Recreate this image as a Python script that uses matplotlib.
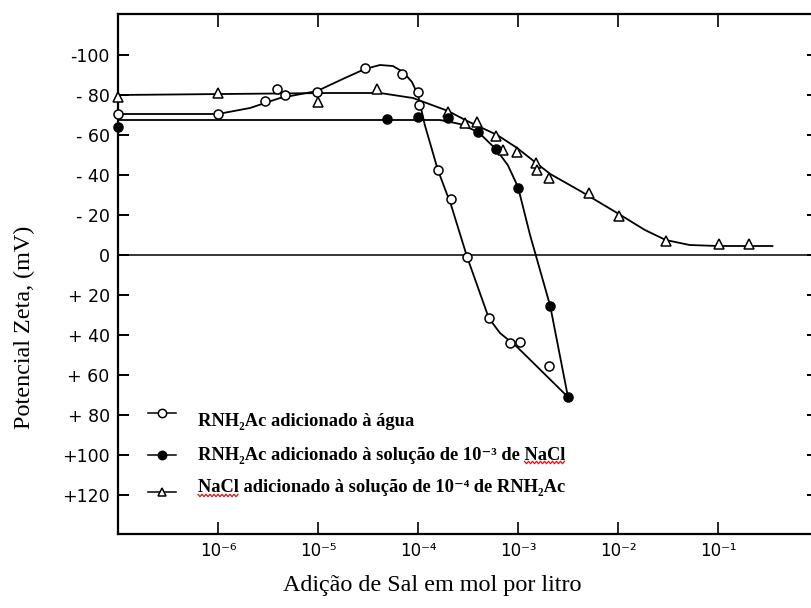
import matplotlib
matplotlib.use("Agg")
import matplotlib.pyplot as plt
import numpy as np

# -----------------------------------------------------------------------------
# Dados (potencial zeta em mV; eixo invertido, negativo para cima)
# -----------------------------------------------------------------------------
# RNH2Ac adicionado à água (círculos abertos)
agua_x = [1e-7, 1e-6, 2.95e-6, 3.9e-6, 4.7e-6, 9.8e-6, 2.95e-5, 6.9e-5,
          1.0e-4, 1.02e-4, 1.58e-4, 2.14e-4, 3.1e-4, 5.1e-4, 8.3e-4,
          1.05e-3, 2.04e-3]
agua_y = [-70.5, -70.5, -77, -83, -80, -81.5, -93.5, -90.5,
          -81.5, -75, -42.5, -28, 1, 31.5, 44,
          43.5, 55.5]
agua_curva_x = [1e-7, 1e-6, 2.09e-6, 4.17e-6, 9.8e-6, 1.86e-5, 2.95e-5, 4.17e-5,
                5.6e-5, 7.1e-5, 8.7e-5, 1.0e-4, 1.17e-4, 1.58e-4, 2.14e-4,
                3.1e-4, 5.1e-4, 6.6e-4, 9.8e-4, 3.16e-3]
agua_curva_y = [-70.5, -70.5, -73.5, -78.5, -82, -88.5, -93, -95,
                -94.5, -91.5, -86.5, -80, -65, -42.5, -25,
                1, 31.5, 39, 46, 71]

# RNH2Ac adicionado à solução de 1e-3 de NaCl (círculos cheios)
nacl_x = [1e-7, 4.9e-5, 1.0e-4, 2.0e-4, 4.0e-4, 6.0e-4, 1.0e-3, 2.1e-3, 3.16e-3]
nacl_y = [-64, -68, -69, -68.5, -61.5, -53, -33.5, 25.5, 71]
nacl_curva_x = [1e-7, 1.66e-4, 2.63e-4, 4.0e-4, 6.0e-4, 7.9e-4, 1.0e-3,
                1.32e-3, 2.1e-3, 3.16e-3]
nacl_curva_y = [-67.5, -67.5, -65.5, -61.5, -53, -45, -34, -10, 25.5, 71]

# NaCl adicionado à solução de 1e-4 de RNH2Ac (triângulos)
amina_x = [1e-7, 1e-6, 1e-5, 3.9e-5, 2.0e-4, 2.95e-4, 3.9e-4, 6.0e-4, 7.1e-4,
           9.8e-4, 1.5e-3, 1.55e-3, 2.04e-3, 5.1e-3, 1.02e-2, 3.0e-2,
           0.102, 0.204]
amina_y = [-79, -81, -76.5, -83, -71.5, -66, -66.5, -59.5, -52.5,
           -51.5, -46, -42.5, -38.5, -31, -19.5, -7,
           -5.5, -5.5]
amina_curva_x = [1e-7, 1.32e-5, 4.17e-5, 8.9e-5, 2.0e-4, 3.1e-4, 6.2e-4, 9.8e-4,
                 2.1e-3, 4.2e-3, 1.02e-2, 1.86e-2, 3.0e-2, 5.2e-2, 0.1, 0.35]
amina_curva_y = [-80, -81, -81, -78.5, -72, -67, -60, -53.5,
                 -40.5, -32, -20.5, -12.5, -7.5, -5, -4.5, -4.5]

yticks = [-100, -80, -60, -40, -20, 0, 20, 40, 60, 80, 100, 120]
ytick_labels = ["-100", "- 80", "- 60", "- 40", "- 20", "0",
                "+ 20", "+ 40", "+ 60", "+ 80", "+100", "+120"]
xticks = [1e-6, 1e-5, 1e-4, 1e-3, 1e-2, 1e-1]
xtick_labels = ["10⁻⁶", "10⁻⁵", "10⁻⁴", "10⁻³", "10⁻²", "10⁻¹"]

legendas = ["RNH₂Ac adicionado à água",
            "RNH₂Ac adicionado à solução de 10⁻³ de NaCl",
            "NaCl adicionado à solução de 10⁻⁴ de RNH₂Ac"]

SERIF = ["Liberation Serif", "DejaVu Serif"]
LEG_FS = 13.3

# -----------------------------------------------------------------------------
# Figura
# -----------------------------------------------------------------------------
fig = plt.figure(figsize=(8.11, 6.08), dpi=100)
W, H = 811, 608
ax = fig.add_axes([118 / W, 1 - 534 / H, (813 - 118) / W, (534 - 14) / H])
ax_w = 813 - 118

ax.set_xscale("log")
ax.set_xlim(1e-7, 10 ** ((813 - 218) / 100 - 6))
ax.set_ylim(139.5, -120.5)

lw = 1.3
ax.axhline(0, color="black", lw=1.1, zorder=1)
ax.plot(agua_curva_x, agua_curva_y, color="black", lw=lw, zorder=2)
ax.plot(nacl_curva_x, nacl_curva_y, color="black", lw=lw, zorder=2)
ax.plot(amina_curva_x, amina_curva_y, color="black", lw=lw, zorder=2)

ax.plot(agua_x, agua_y, "o", ms=6.5, mfc="white", mec="black", mew=1.1,
        zorder=4, clip_on=False)
ax.plot(nacl_x, nacl_y, "o", ms=6.5, mfc="black", mec="black", mew=1.1,
        zorder=4, clip_on=False)
ax.plot(amina_x, amina_y, "^", ms=6.5, mfc="white", mec="black", mew=1.1,
        zorder=3, clip_on=False)

# eixos e marcas
for s in ax.spines.values():
    s.set_linewidth(1.6)
ax.set_yticks(yticks)
ax.set_yticklabels(ytick_labels, fontsize=12.5, family="DejaVu Sans")
ax.set_xticks(xticks)
ax.set_xticklabels(xtick_labels, fontsize=12, family="DejaVu Sans")
ax.minorticks_off()
ax.tick_params(axis="y", direction="in", length=8, width=1.4, pad=6,
               right=True)
ax.tick_params(axis="x", direction="in", length=9, width=1.2, pad=6, top=True)
for t in ax.yaxis.get_major_ticks():
    t.tick2line.set_markersize(4)

ax.set_xlabel("Adição de Sal em mol por litro", family=SERIF, fontsize=17.4,
              va="center")
ax.xaxis.set_label_coords((432 - 118) / ax_w, -(585 - 534) / 520)
ax.set_ylabel("Potencial Zeta, (mV)", family=SERIF, fontsize=17.4,
              va="center")
ax.yaxis.set_label_coords((24 - 118) / ax_w, (534 - 327) / 520)

# legenda manual
estilos = [dict(marker="o", mfc="white"),
           dict(marker="o", mfc="black"),
           dict(marker="^", mfc="white")]
marc_y = [413, 455, 492]
texto_y = [421, 455, 488]
textos = []
for est, my, ty, txt in zip(estilos, marc_y, texto_y, legendas):
    yf = (534 - my) / 520
    ax.plot([(148 - 118) / ax_w, (176 - 118) / ax_w], [yf, yf],
            color="black", lw=1.1, transform=ax.transAxes, clip_on=False)
    ax.plot([(162 - 118) / ax_w], [yf], ms=6, mec="black", mew=1.1,
            transform=ax.transAxes, clip_on=False, **est)
    t = ax.text((198 - 118) / ax_w, (534 - ty) / 520, txt, transform=ax.transAxes,
                family=SERIF, fontsize=LEG_FS, fontweight="bold",
                ha="left", va="center")
    textos.append(t)

# sublinhado ondulado vermelho sob "NaCl"
fig.canvas.draw()
rend = fig.canvas.get_renderer()


def largura(s):
    tmp = fig.text(0, 0, s, family=SERIF, fontsize=LEG_FS, fontweight="bold")
    w = tmp.get_window_extent(rend).width
    tmp.remove()
    return w


w_nacl = largura("NaCl")
bb2 = textos[1].get_window_extent(rend)
bb3 = textos[2].get_window_extent(rend)
for x0, y0 in [(bb2.x1 - w_nacl, bb2.y0 + 1), (bb3.x0, bb3.y0 + 1)]:
    xs = np.arange(x0, x0 + w_nacl + 0.1, 2.0)
    ys = y0 + np.where(np.arange(len(xs)) % 2 == 0, 1.2, -1.2)
    pts = fig.transFigure.inverted().transform(np.column_stack([xs, ys]))
    fig.add_artist(plt.Line2D(pts[:, 0], pts[:, 1], color="#e01010", lw=0.9,
                              transform=fig.transFigure))

fig.savefig("out.png", dpi=100)
